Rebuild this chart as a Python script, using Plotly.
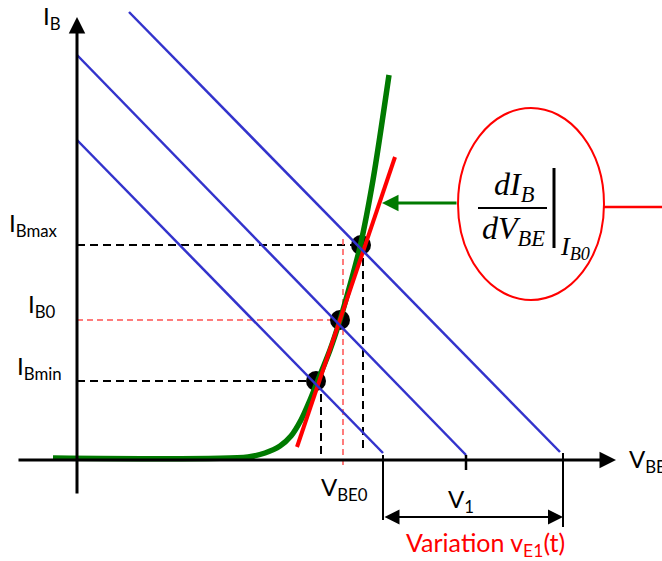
import plotly.graph_objects as go

# diagram units: V_BE to the right, I_B upward, origin where the two axes cross
# input characteristic I_B(V_BE) of the transistor
vbe_curve = [-24, 171, 188, 203, 214, 224, 233, 241, 253, 263, 273, 283, 296, 312]
ib_curve = [2, 3, 7, 14, 24, 40, 60, 80, 110, 140, 175, 213, 280, 385]

# tangent to the characteristic at the operating point
tan_v = [220, 318]
tan_i = [13, 303]

# load lines (one per input level): start and end points
load_v_start = [0, 0, 52]
load_i_start = [320, 405, 448]
load_v_end = [306, 389, 483]
load_i_end = [7, 5, 8]

# operating points I_Bmin, I_B0, I_Bmax
op_v = [239, 263, 284]
op_i = [79, 140, 215]
op_names = ["I<sub>Bmin</sub>", "I<sub>B0</sub>", "I<sub>Bmax</sub>"]
proj_v = [244, 266, 286]   # foot of the dashed projections on the V_BE axis

# swing of the input signal on the V_BE axis
v1_tick = 389
swing = [306, 486]

BLUE = "#3333cc"
GREEN = "#007a00"
RED = "#ff0000"
SANS = "Lato"
SERIF = "Liberation Serif"

fig = go.Figure()

# dashed projections
for k in (0, 2):
    fig.add_trace(go.Scatter(x=[0, op_v[k]], y=[op_i[k], op_i[k]], mode="lines",
                             line=dict(color="black", width=2, dash="8px,5px")))
    fig.add_trace(go.Scatter(x=[proj_v[k], proj_v[k]], y=[op_i[k], 3 + 9 * (k == 2)], mode="lines",
                             line=dict(color="black", width=2, dash="8px,5px")))
fig.add_trace(go.Scatter(x=[0, op_v[1]], y=[op_i[1], op_i[1]], mode="lines",
                         line=dict(color="#ff5050", width=1.5, dash="6px,4px")))
fig.add_trace(go.Scatter(x=[proj_v[1], proj_v[1]], y=[221, -7], mode="lines",
                         line=dict(color="#ff5050", width=1.5, dash="6px,4px")))

# operating points
fig.add_trace(go.Scatter(x=op_v, y=op_i, mode="markers",
                         marker=dict(color="black", size=20)))

# characteristic and tangent
fig.add_trace(go.Scatter(x=vbe_curve, y=ib_curve, mode="lines",
                         line=dict(color=GREEN, width=5.5, shape="spline", smoothing=0.8)))
fig.add_trace(go.Scatter(x=tan_v, y=tan_i, mode="lines", line=dict(color=RED, width=4)))

# load lines
for a, b, c, d in zip(load_v_start, load_i_start, load_v_end, load_i_end):
    fig.add_trace(go.Scatter(x=[a, c], y=[b, d], mode="lines", line=dict(color=BLUE, width=2.5)))

# ticks and limits of the swing
fig.add_trace(go.Scatter(x=[v1_tick, v1_tick], y=[5, -10], mode="lines", line=dict(color="black", width=2.5)))
fig.add_trace(go.Scatter(x=[swing[0], swing[0]], y=[5, -60], mode="lines", line=dict(color="black", width=2)))
fig.add_trace(go.Scatter(x=[swing[1], swing[1]], y=[7, -67], mode="lines", line=dict(color="black", width=2)))

# formula: fraction bar, evaluation bar
fig.add_trace(go.Scatter(x=[401, 470], y=[252, 252], mode="lines", line=dict(color="black", width=2)))
fig.add_trace(go.Scatter(x=[477, 477], y=[292, 212], mode="lines", line=dict(color="black", width=3)))
fig.add_trace(go.Scatter(x=[526, 585], y=[253, 253], mode="lines", line=dict(color=RED, width=2.5)))

fig.add_shape(type="circle", x0=381, x1=527, y0=160, y1=352, line=dict(color=RED, width=2))

ann = []
# axes with arrow heads
ann.append(dict(x=0, y=443, ax=0, ay=-35, xref="x", yref="y", axref="x", ayref="y", text="",
                showarrow=True, arrowhead=2, arrowsize=1.1, arrowwidth=3, arrowcolor="black"))
ann.append(dict(x=539, y=0, ax=-60, ay=0, xref="x", yref="y", axref="x", ayref="y", text="",
                showarrow=True, arrowhead=2, arrowsize=1.1, arrowwidth=3, arrowcolor="black"))
# green pointer to the tangent
ann.append(dict(x=305, y=257, ax=381, ay=257, xref="x", yref="y", axref="x", ayref="y", text="",
                showarrow=True, arrowhead=2, arrowsize=1.1, arrowwidth=3, arrowcolor=GREEN))
# double arrow of the swing
ann.append(dict(x=swing[1], y=-57, ax=swing[0], ay=-57, xref="x", yref="y", axref="x", ayref="y", text="",
                showarrow=True, arrowhead=2, arrowside="end+start", arrowsize=1.5, arrowwidth=2,
                arrowcolor="black"))


def label(txt, x, y, size=24, color="black", family=SANS, xanchor="left"):
    ann.append(dict(x=x, y=y, xref="x", yref="y", text=txt, showarrow=False, xanchor=xanchor,
                    yanchor="middle", font=dict(family=family, size=size, color=color)))


label("I<sub>B</sub>", -36, 443)
label(op_names[2], -70, 236)
label(op_names[1], -51, 155)
label(op_names[0], -62, 93)
label("V<sub>BE0</sub>", 242, -28)
label("V<sub>1</sub>", 369, -40)
label("V<sub>BE</sub>", 550, 0)
label("Variation v<sub>E1</sub>(t)", 408, -84, size=25, color=RED, xanchor="center")

label("<i>dI</i><sub><i>B</i></sub>", 437, 274, size=32, family=SERIF, xanchor="center")
label("<i>dV</i><sub><i>BE</i></sub>", 436, 230, size=32, family=SERIF, xanchor="center")
label("<i>I</i><sub><i>B0</i></sub>", 481, 212, size=26, family=SERIF)

fig.update_layout(
    width=662, height=561,
    margin=dict(l=0, r=0, t=0, b=0),
    paper_bgcolor="white", plot_bgcolor="white",
    showlegend=False,
    xaxis=dict(range=[-77, 585], visible=False),
    yaxis=dict(range=[-101, 460], visible=False),
    annotations=ann,
)

fig.write_html("out.html", config={"displayModeBar": False},
               post_script="document.body.style.margin='0';")
